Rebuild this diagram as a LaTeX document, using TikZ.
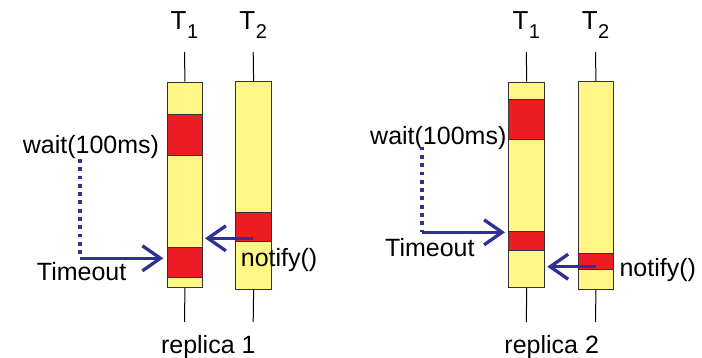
\documentclass[tikz,border=0pt]{standalone}
\usepackage{fontspec}
\setmainfont{Liberation Sans}
\usetikzlibrary{arrows.meta}
\definecolor{baryel}{HTML}{FFF685}
\definecolor{blkred}{HTML}{ED1C24}
\definecolor{sigblue}{HTML}{2E3192}
\begin{document}
\begin{tikzpicture}[x=1pt,y=-1pt,
  bar/.style={draw=black!80, fill=baryel, line width=0.9pt, anchor=north west, inner sep=0pt},
  blk/.style={draw=black!80, fill=blkred, line width=0.9pt, anchor=north west, inner sep=0pt},
  stem/.style={draw=black, line width=1pt},
  lbl/.style={font=\fontsize{25}{30}\selectfont, inner sep=0pt},
  tlbl/.style={font=\fontsize{26}{30}\selectfont, inner sep=0pt},
  sig/.style={draw=sigblue, line width=3.3pt, -{Straight Barb[length=18pt,width=25pt]}},
  waitline/.style={draw=sigblue, line width=3.8pt, dash pattern=on 3.8pt off 4.5pt}
]
\useasboundingbox (0,0) rectangle (702,358);
\newcommand{\tlabel}[1]{T\kern0.5pt\raisebox{-8.3pt}{\fontsize{20}{20}\selectfont #1}}

% ---------- replica 1 ----------
\node[bar, minimum width=35.6pt, minimum height=205.6pt] (la) at (166.7,81.7) {};
\node[blk, minimum width=35.6pt, minimum height=40.7pt] (lar1) at (166.7,114.3) {};
\node[blk, minimum width=35.6pt, minimum height=29.7pt] (lar2) at (166.7,247) {};
\node[bar, minimum width=35.7pt, minimum height=208.3pt] (lb) at (235.3,81) {};
\node[blk, minimum width=35.7pt, minimum height=29.3pt] (lbr1) at (235.3,212) {};

\coordinate (lat) at (184.5,52);
\coordinate (lab) at (184.5,322);
\coordinate (lbt) at (253.2,52);
\coordinate (lbb) at (253.2,322);
\draw[stem] (lat) -- (la.north);
\draw[stem] (la.south) -- (lab);
\draw[stem] (lbt) -- (lb.north);
\draw[stem] (lb.south) -- (lbb);

\node[tlbl, anchor=base] (lT1) at (184.5,30) {\tlabel{1}};
\node[tlbl, anchor=base] (lT2) at (253.2,30) {\tlabel{2}};

\node[lbl, anchor=base west] (lwait) at (22.7,154) {wait(100ms)};
\node[lbl, anchor=base west] (ltime) at (36.7,280) {Timeout};
\node[lbl, anchor=base west] (lnot) at (240.7,266.7) {notify()};
\node[lbl, anchor=base] (lrep) at (208.3,353.5) {replica 1};

\coordinate (lw0) at (80,159);
\coordinate (lw1) at (80,258.3);
\coordinate (lw2) at (163.3,258.3);
\draw[waitline] (lw0) -- (lw1);
\draw[sig] (lw1) -- (lw2);
\coordinate (ln0) at (253.2,238.3);
\coordinate (ln1) at (205,238.3);
\draw[sig] (ln0) -- (ln1);

% ---------- replica 2 ----------
\node[bar, minimum width=36pt, minimum height=205.6pt] (ra) at (508.3,81.7) {};
\node[blk, minimum width=36pt, minimum height=40.3pt] (rar1) at (508.3,99) {};
\node[blk, minimum width=36pt, minimum height=19.3pt] (rar2) at (508.3,231) {};
\node[bar, minimum width=35.6pt, minimum height=208.3pt] (rb) at (577.7,81) {};
\node[blk, minimum width=35.6pt, minimum height=16pt] (rbr1) at (577.7,253.3) {};

\coordinate (rat) at (526.3,52);
\coordinate (rab) at (526.3,322);
\coordinate (rbt) at (595.5,52);
\coordinate (rbb) at (595.5,322);
\draw[stem] (rat) -- (ra.north);
\draw[stem] (ra.south) -- (rab);
\draw[stem] (rbt) -- (rb.north);
\draw[stem] (rb.south) -- (rbb);

\node[tlbl, anchor=base] (rT1) at (526.3,30) {\tlabel{1}};
\node[tlbl, anchor=base] (rT2) at (595.5,30) {\tlabel{2}};

\node[lbl, anchor=base west] (rwait) at (370,145) {wait(100ms)};
\node[lbl, anchor=base west] (rtime) at (385,256.7) {Timeout};
\node[lbl, anchor=base west] (rnot) at (619.3,276.7) {notify()};
\node[lbl, anchor=base] (rrep) at (551.7,353.5) {replica 2};

\coordinate (rw0) at (421.7,146.7);
\coordinate (rw1) at (421.7,232.3);
\coordinate (rw2) at (505,232.3);
\draw[waitline] (rw0) -- (rw1);
\draw[sig] (rw1) -- (rw2);
\coordinate (rn0) at (595.5,266.7);
\coordinate (rn1) at (547.3,266.7);
\draw[sig] (rn0) -- (rn1);
\end{tikzpicture}
\end{document}
